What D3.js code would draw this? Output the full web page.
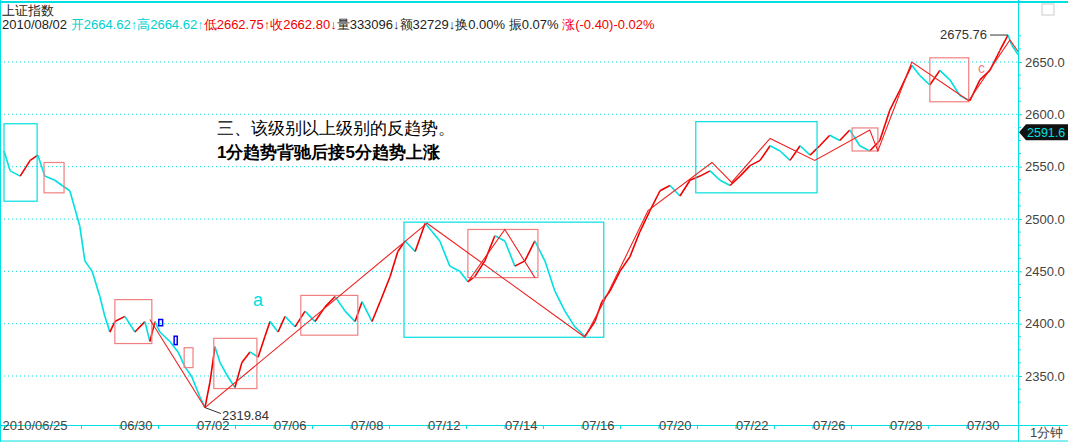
<!DOCTYPE html>
<html><head><meta charset="utf-8">
<script src="https://cdn.jsdelivr.net/npm/d3@7"></script>
<style>body{margin:0;background:#fff}svg{display:block;font-family:"Liberation Sans","DejaVu Sans",sans-serif}</style>
</head><body><svg id="c" width="1068" height="442"></svg>
<script>
// day labels along bottom (index = trading day)
const dayLabels = ["2010/06/25","","","06/30","","07/02","","07/06","","07/08","","07/12","","07/14","","07/16","","07/20","","07/22","","07/26","","07/28","","07/30"];
const yTicks = [2350, 2400, 2450, 2500, 2550, 2600, 2650];
// time (trading days from 06/25) and index close
const times = [0,0.16,0.42,0.68,0.88,1.06,1.32,1.51,1.71,1.97,2.10,2.29,2.49,2.62,2.75,2.88,3.14,3.40,3.66,3.79,3.92,4.05,4.31,4.52,4.70,4.88,5.09,5.22,5.35,5.48,5.61,5.82,6.00,6.18,6.39,6.60,6.78,6.91,7.12,7.30,7.56,7.82,8.08,8.34,8.60,8.86,9.12,9.30,9.56,9.77,10.03,10.23,10.42,10.68,10.94,11.12,11.32,11.58,11.84,12.05,12.23,12.49,12.75,13.01,13.27,13.53,13.79,14.05,14.31,14.57,14.83,15.09,15.35,15.53,15.74,16.00,16.26,16.52,16.78,17.04,17.30,17.56,17.82,18.08,18.34,18.60,18.86,19.12,19.38,19.64,19.90,20.16,20.42,20.68,20.94,21.19,21.45,21.71,21.97,22.23,22.49,22.75,23.01,23.27,23.58,23.79,24.05,24.31,24.57,24.83,25.09,25.35,25.61,25.87,26.08,26.18,26.34];
const prices = [2565,2546,2541,2556,2561,2541,2537,2532,2527,2493,2460,2450,2426,2407,2392,2402,2407,2392,2402,2383,2402,2392,2383,2373,2359,2349,2330,2319.84,2344,2378,2363,2349,2339,2363,2373,2368,2388,2402,2392,2407,2397,2412,2402,2416,2426,2412,2402,2421,2402,2421,2445,2469,2479,2469,2496,2488,2479,2455,2450,2440,2445,2460,2484,2479,2455,2460,2479,2460,2431,2412,2397,2388,2402,2421,2431,2450,2464,2488,2508,2527,2532,2522,2537,2541,2546,2537,2532,2541,2551,2556,2570,2565,2556,2570,2561,2570,2580,2575,2585,2570,2565,2575,2604,2623,2647,2637,2628,2642,2633,2618,2613,2633,2642,2661,2675.76,2666,2657];
// analysis boxes [t0, t1, low, high]
const cyanBoxes = [[0,0.86,2517,2591],[10.39,15.58,2387,2497],[17.97,21.12,2525,2593]];
const redBoxes = [[1.04,1.56,2525,2554],[2.88,3.84,2381,2423],[4.68,4.91,2358,2377],[5.45,6.57,2338,2386],[7.71,9.19,2389,2427],[12.05,13.87,2444,2490],[22.03,22.7,2565,2587],[24.05,25.06,2612,2654]];
const blueBoxes = [[4.02,4.12,2398,2404],[4.42,4.50,2380,2388]];
// trend segments [[t,p],...]
const trendLines = [
  [[5.22,2319.84],[10.99,2496],[15.09,2387]],
  [[3.79,2404],[5.22,2319.84]],
  [[12.05,2440],[13.01,2490],[13.79,2444]],
  [[15.09,2387],[15.58,2421],[16.73,2508],[18.39,2554],[18.9,2535],[19.9,2577],[21.06,2556],[22.49,2585],[22.7,2565],[23.58,2650],[25.06,2613],[26.13,2671],[26.34,2660]]
];
const header = [["2010/08/02 ","#222"],["开2664.62↑高2664.62↑","#00d0d0"],["低2662.75↑收2662.80↓","#f00000"],["量333096↓额32729↓换0.00% 振0.07% ","#222"],["涨(-0.40)-0.02%","#f00000"]];

const svg = d3.select("#c");
const x = d3.scaleLinear().domain([0, 26.34]).range([4, 1018]);
const y = d3.scaleLinear().domain([2350, 2650]).range([376, 62]);
const cyan = "#00e0e0";

svg.append("line").attr("x1",0).attr("x2",1068).attr("y1",2).attr("y2",2).attr("stroke",cyan).attr("stroke-width",2);
svg.append("text").attr("x",2).attr("y",15).attr("font-size",13).attr("fill","#222").text("上证指数");
const h = svg.append("text").attr("x",2).attr("y",29).attr("font-size",13);
header.forEach(function(s){ h.append("tspan").attr("fill",s[1]).text(s[0]); });

// grid
svg.selectAll(".grid").data(yTicks).enter().append("line")
  .attr("x1",0).attr("x2",1018).attr("y1",d=>y(d)).attr("y2",d=>y(d))
  .attr("stroke",cyan).attr("stroke-dasharray","1,3");

// frame
svg.append("line").attr("x1",1018.5).attr("x2",1018.5).attr("y1",0).attr("y2",442).attr("stroke",cyan);
svg.append("line").attr("x1",0.5).attr("x2",0.5).attr("y1",0).attr("y2",442).attr("stroke",cyan);
svg.append("line").attr("x1",0).attr("x2",1068).attr("y1",425.5).attr("y2",425.5).attr("stroke",cyan);
svg.append("line").attr("x1",0).attr("x2",1068).attr("y1",441).attr("y2",441).attr("stroke",cyan);
svg.append("rect").attr("x",1042).attr("y",4).attr("width",12).attr("height",11).attr("fill","none").attr("stroke","#ccc");

// right axis
const ya = svg.append("g").attr("transform","translate(1018,0)")
  .call(d3.axisRight(y).tickValues(yTicks).tickSize(4).tickFormat(d3.format(".1f")));
ya.select(".domain").remove();
ya.selectAll("line").attr("stroke",cyan);
ya.selectAll("text").attr("fill","#444").attr("font-size",13).attr("x",7);
const yMinor = d3.range(2325, 2676, 12.5).filter(d => yTicks.indexOf(d) < 0);
svg.selectAll(".ym").data(yMinor).enter().append("line")
  .attr("x1",1018).attr("x2",1021).attr("y1",d=>y(d)).attr("y2",d=>y(d)).attr("stroke",cyan);

// bottom axis
const days = d3.range(dayLabels.length);
const xa = svg.append("g").attr("transform","translate(0,425)")
  .call(d3.axisBottom(x).tickValues(days).tickSize(4).tickFormat(i => dayLabels[i]));
xa.select(".domain").remove();
xa.selectAll("line").attr("stroke",cyan);
xa.selectAll("text").attr("fill","#444").attr("font-size",13).attr("text-anchor","start").attr("dx",0).attr("dy",-2);
xa.selectAll(".tick").filter(i => i === 0).select("text").attr("dx",-2);
svg.append("text").attr("x",1030).attr("y",437).attr("font-size",13).attr("fill","#444").text("1分钟");

// price path
const pts = times.map((t,i) => [t, prices[i]]);
svg.selectAll(".seg").data(pts.slice(1)).enter().append("line")
  .attr("x1",(d,i)=>x(pts[i][0])).attr("y1",(d,i)=>y(pts[i][1]))
  .attr("x2",d=>x(d[0])).attr("y2",d=>y(d[1]))
  .attr("stroke",(d,i)=> d[1] >= pts[i][1] ? "#f00000" : cyan).attr("stroke-width",1.6);

function boxes(data, color, w){
  svg.append("g").selectAll("rect").data(data).enter().append("rect")
    .attr("x",d=>x(d[0])).attr("y",d=>y(d[3]))
    .attr("width",d=>x(d[1])-x(d[0])).attr("height",d=>y(d[2])-y(d[3]))
    .attr("fill","none").attr("stroke",color).attr("stroke-width",w);
}
boxes(cyanBoxes, cyan, 1.2);
boxes(redBoxes, "#f08080", 1.2);
boxes(blueBoxes, "#0000ff", 1.5);

const line = d3.line().x(d=>x(d[0])).y(d=>y(d[1]));
svg.append("g").selectAll("path").data(trendLines).enter().append("path")
  .attr("d",line).attr("fill","none").attr("stroke","#f02020").attr("stroke-width",1.1);

// extreme labels
svg.append("path").attr("d","M"+x(5.22)+","+y(2319.84)+"L"+(x(5.22)+16)+","+(y(2319.84)+6)).attr("stroke","#333");
svg.append("text").attr("x",x(5.22)+17).attr("y",y(2319.84)+12).attr("font-size",13).attr("fill","#333").text("2319.84");
svg.append("path").attr("d","M"+(x(26.08)-18)+","+y(2675.76)+"L"+x(26.08)+","+y(2675.76)).attr("stroke","#333");
svg.append("text").attr("x",x(26.08)-21).attr("y",y(2675.76)+4).attr("font-size",13).attr("fill","#333").attr("text-anchor","end").text("2675.76");

// last price tag
const ly = y(2591.6) + 9;
svg.append("path").attr("d","M1019,"+ly+"L1026,"+(ly-8)+"L1068,"+(ly-8)+"L1068,"+(ly+8)+"L1026,"+(ly+8)+"Z").attr("fill","#111");
svg.append("text").attr("x",1027).attr("y",ly+4.5).attr("font-size",12.5).attr("fill",cyan).text("2591.6");

// notes
svg.append("text").attr("x",217).attr("y",134).attr("font-size",17).attr("fill","#000").text("三、该级别以上级别的反趋势。");
svg.append("text").attr("x",217).attr("y",158).attr("font-size",17).attr("font-weight","bold").attr("fill","#000").text("1分趋势背驰后接5分趋势上涨");
svg.append("text").attr("x",253).attr("y",306).attr("font-size",18).attr("fill",cyan).text("a");
svg.append("text").attr("x",978).attr("y",73).attr("font-size",14).attr("fill","#f08080").text("c");
</script></body></html>
